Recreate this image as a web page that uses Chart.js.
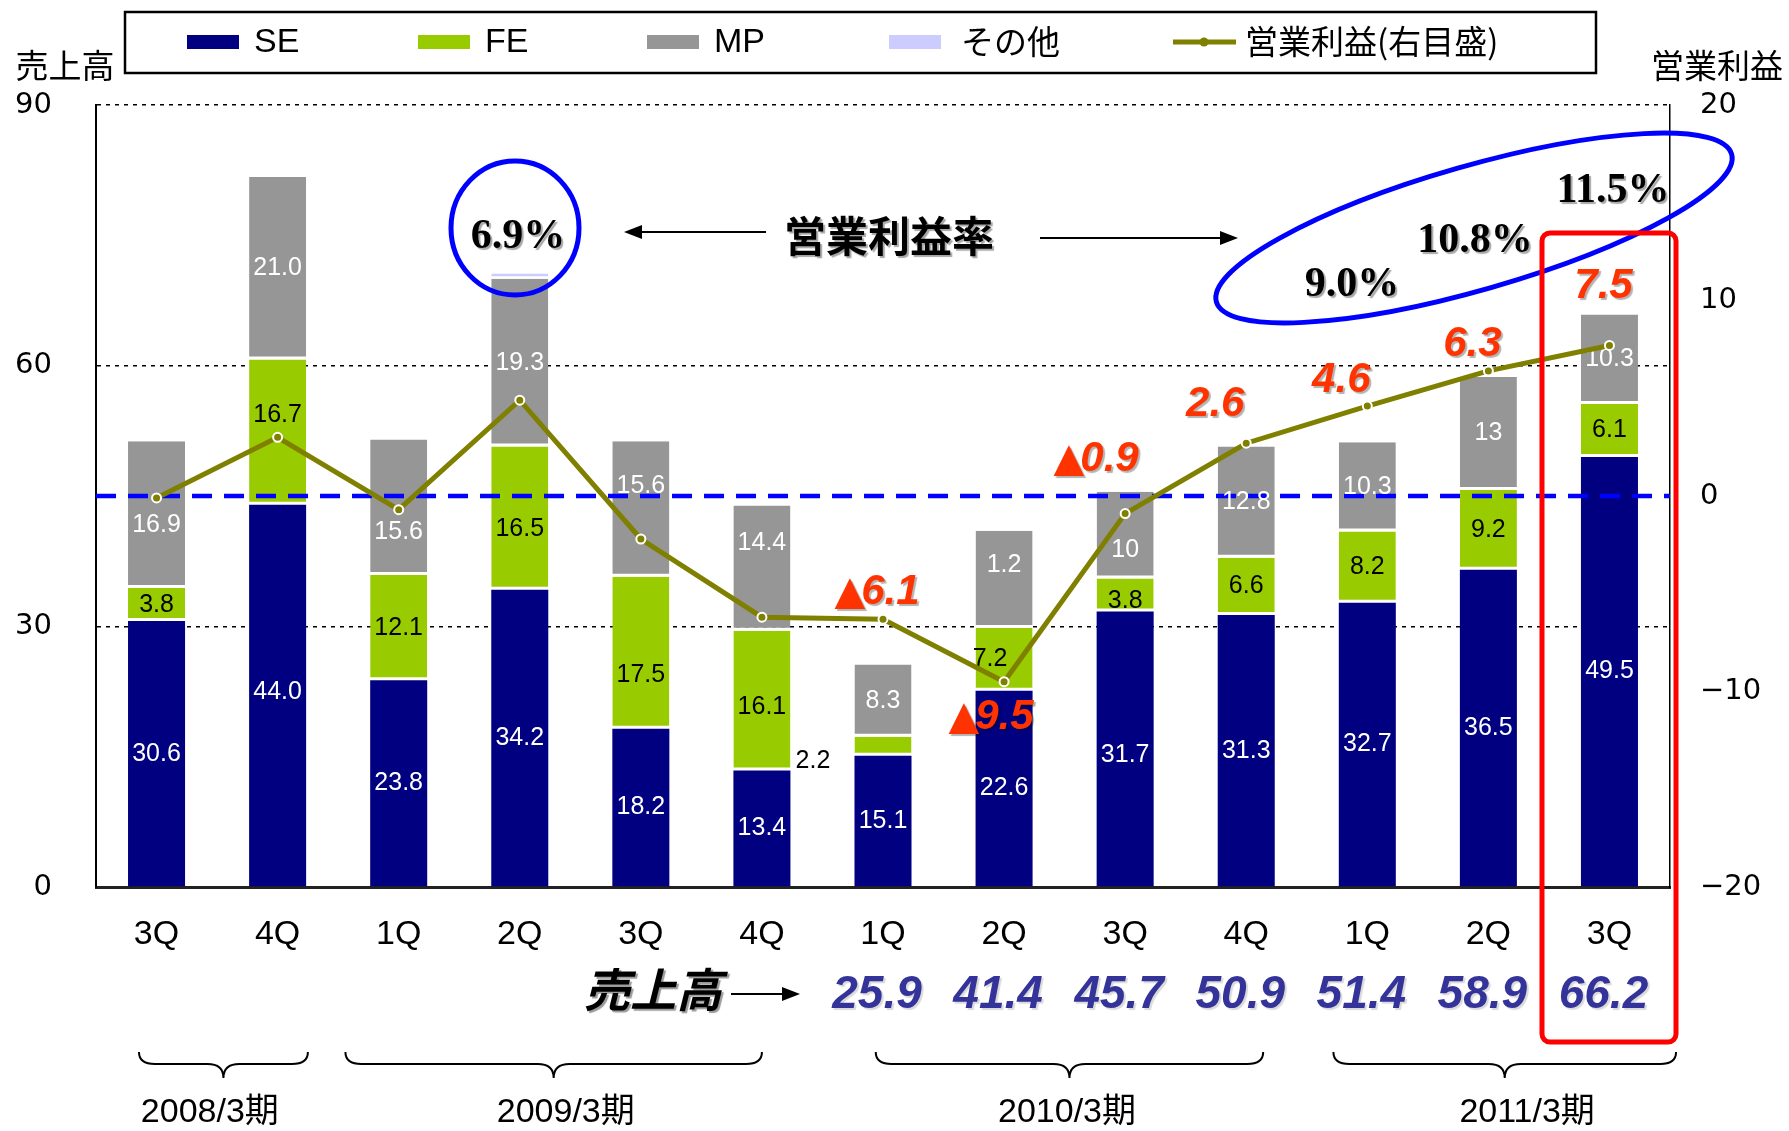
<!DOCTYPE html>
<html><head><meta charset="utf-8">
<script src="https://cdn.jsdelivr.net/npm/chart.js@4"></script>
<style>html,body{margin:0;padding:0;background:#fff;overflow:hidden}</style>
</head><body>
<canvas id="c" width="1789" height="1131"></canvas>
<script>
// ---- data ----
const categories = ['3Q','4Q','1Q','2Q','3Q','4Q','1Q','2Q','3Q','4Q','1Q','2Q','3Q'];
const seValues = [30.6,44.0,23.8,34.2,18.2,13.4,15.1,22.6,31.7,31.3,32.7,36.5,49.5];
const feValues = [3.8,16.7,12.1,16.5,17.5,16.1,2.2,7.2,3.8,6.6,8.2,9.2,6.1];
const mpValues = [16.9,21.0,15.6,19.3,15.6,14.4,8.3,11.2,10.0,12.8,10.3,13.0,10.3];
const mpLabels = ['16.9','21.0','15.6','19.3','15.6','14.4','8.3','1.2','10','12.8','10.3','13','10.3'];
const otherValues = [0,0,0,0.6,0,0,0,0,0,0,0,0,0];
const profitValues = [-0.1,3.0,-0.7,4.9,-2.2,-6.2,-6.3,-9.5,-0.9,2.7,4.6,6.4,7.7];
const profitLabels = ['','','','','','','▲6.1','▲9.5','▲0.9','2.6','4.6','6.3','7.5'];
const salesTotals = ['','','','','','','25.9','41.4','45.7','50.9','51.4','58.9','66.2'];
const marginLabels = ['6.9%','9.0%','10.8%','11.5%'];
const fiscalYears = ['2008/3期','2009/3期','2010/3期','2011/3期'];
const leftTicks = [0,30,60,90];
const rightTicks = [-20,-10,0,10,20];
const seriesNames = ['SE','FE','MP','その他','営業利益(右目盛)'];
const leftTitle = '売上高';
const rightTitle = '営業利益';
const rateTitle = '営業利益率';

// ---- styles / layout (not data) ----
const COL = {se:'#000080', fe:'#99cc00', mp:'#969696', other:'#ccccff', line:'#808000'};
const NARROW = '"Liberation Sans Narrow","Liberation Sans","Noto Sans CJK JP",sans-serif';
const SANS = '"Liberation Sans","DejaVu Sans","Noto Sans CJK JP",sans-serif';
const CJK = '"Noto Sans CJK JP",sans-serif';
const SERIF = '"Liberation Serif","DejaVu Serif",serif';
const profitOffsets = {6:[-6,-27],7:[-13,36],8:[-29,-54],9:[-31,-39],10:[-26,-26],11:[-16,-26],12:[-6,-59]};
const seLabelOffsets = {1:[0,-3],8:[0,6]};
const feLabelOffsets = {1:[0,-17],3:[0,11],4:[0,22],5:[0,6],6:[-70,15],7:[-14,0],8:[0,6]};
const mpLabelOffsets = {0:[0,10],2:[0,25],4:[0,-23],5:[0,-25],7:[0,-14],8:[0,15]};
const braceSpans = [[-0.145,1.25],[1.56,5.0],[5.94,9.14],[9.72,12.55]];
const yearLabelPos = [0.44,3.38,7.52,11.32];

function stext(ctx, t, x, y, color, sh) {
  ctx.save();
  if (sh) { ctx.shadowColor = sh; ctx.shadowOffsetX = 2; ctx.shadowOffsetY = 2; ctx.shadowBlur = 1; }
  ctx.fillStyle = color; ctx.fillText(t, x, y);
  ctx.restore();
}
function arrow(ctx, x1, y, x2) {
  const dir = Math.sign(x2 - x1);
  ctx.save(); ctx.strokeStyle = '#000'; ctx.fillStyle = '#000'; ctx.lineWidth = 2;
  ctx.beginPath(); ctx.moveTo(x1, y); ctx.lineTo(x2 - dir*14, y); ctx.stroke();
  ctx.beginPath(); ctx.moveTo(x2, y); ctx.lineTo(x2 - dir*18, y - 7); ctx.lineTo(x2 - dir*18, y + 7); ctx.closePath(); ctx.fill();
  ctx.restore();
}
function brace(ctx, x0, x1, yTop, yMid, yTip) {
  const m = (x0 + x1) / 2, r = 16;
  ctx.beginPath();
  ctx.moveTo(x0, yTop);
  ctx.quadraticCurveTo(x0, yMid, x0 + r, yMid);
  ctx.lineTo(m - r, yMid);
  ctx.quadraticCurveTo(m, yMid, m, yTip);
  ctx.quadraticCurveTo(m, yMid, m + r, yMid);
  ctx.lineTo(x1 - r, yMid);
  ctx.quadraticCurveTo(x1, yMid, x1, yTop);
  ctx.stroke();
}
// profit label: big triangle (DejaVu) + italic digits
function profitText(ctx, t, cx, cy) {
  const tri = t.startsWith('▲') ? '▲' : '';
  const num = tri ? t.slice(1) : t;
  const fTri = 'bold 40px "DejaVu Sans",sans-serif';
  const fNum = 'italic bold 42px ' + SANS;
  ctx.font = fTri; const w1 = tri ? ctx.measureText(tri).width - 4 : 0;
  ctx.font = fNum; const w2 = ctx.measureText(num).width;
  let x = cx - (w1 + w2) / 2;
  ctx.textAlign = 'left';
  if (tri) { ctx.font = fTri; stext(ctx, tri, x, cy + 1, '#ff3300', 'rgba(0,0,0,0.3)'); }
  ctx.font = fNum; stext(ctx, num, x + w1, cy, '#ff3300', 'rgba(0,0,0,0.3)');
  ctx.textAlign = 'center';
}

const overlay = {
  id: 'overlay',
  beforeDatasetDraw(chart, args) {
    if (args.index !== 0) return;
    const ctx = chart.ctx, ca = chart.chartArea;
    const y0 = chart.scales.y1.getPixelForValue(0);
    ctx.save();
    ctx.strokeStyle = '#0000ff'; ctx.lineWidth = 4.5; ctx.setLineDash([20, 12]);
    ctx.beginPath(); ctx.moveTo(ca.left, y0); ctx.lineTo(ca.right, y0); ctx.stroke();
    ctx.restore();
    ctx.save();
    ctx.font = '25px ' + SANS; ctx.textAlign = 'center'; ctx.textBaseline = 'middle';
    const specs = [[1, seValues.map(v => v.toFixed(1)), '#fff', seLabelOffsets],
                   [2, feValues.map(v => v.toFixed(1)), '#000', feLabelOffsets],
                   [3, mpLabels, '#fff', mpLabelOffsets]];
    specs.forEach(([di, texts, color, offs]) => {
      chart.getDatasetMeta(di).data.forEach((el, i) => {
        const p = el.getProps(['x','y','base'], true);
        let cx = p.x, cy = (p.y + p.base) / 2;
        if (offs[i]) { cx += offs[i][0]; cy += offs[i][1]; }
        ctx.fillStyle = color; ctx.fillText(texts[i], cx, cy);
      });
    });
    ctx.restore();
  },
  afterDraw(chart) {
    const ctx = chart.ctx, xs = chart.scales.x;
    const X = i => xs.getPixelForValue(i);
    ctx.save();
    // legend
    ctx.strokeStyle = '#000'; ctx.lineWidth = 2.5; ctx.strokeRect(125, 12, 1471, 61);
    const sw = [[187, COL.se], [418, COL.fe], [647, COL.mp], [889, COL.other]];
    sw.forEach(([x, c]) => { ctx.fillStyle = c; ctx.fillRect(x, 35, 52, 14); });
    ctx.strokeStyle = COL.line; ctx.lineWidth = 5;
    ctx.beginPath(); ctx.moveTo(1173, 42); ctx.lineTo(1236, 42); ctx.stroke();
    ctx.fillStyle = COL.line; ctx.beginPath(); ctx.arc(1204, 42, 4.5, 0, Math.PI*2); ctx.fill();
    ctx.textBaseline = 'middle'; ctx.textAlign = 'left'; ctx.fillStyle = '#000';
    ctx.font = '34px ' + SANS;
    [254, 485, 714].forEach((x, k) => ctx.fillText(seriesNames[k], x, 43));
    ctx.font = '33px ' + CJK;
    ctx.fillText(seriesNames[3], 961, 41);
    ctx.fillText(seriesNames[4], 1245, 41);
    // axis titles
    ctx.font = '33px ' + CJK; ctx.textAlign = 'center';
    ctx.fillText(leftTitle, 65, 65);
    ctx.fillText(rightTitle, 1717, 65);
    // margin annotations
    ctx.strokeStyle = '#0000ff'; ctx.lineWidth = 5;
    ctx.beginPath(); ctx.ellipse(515, 228, 64, 67, 0, 0, Math.PI*2); ctx.stroke();
    ctx.beginPath(); ctx.ellipse(1474, 228, 268, 62, -16*Math.PI/180, 0, Math.PI*2); ctx.stroke();
    ctx.font = 'bold 42px ' + SERIF;
    const mPos = [[518, 237], [1352, 285], [1475, 241], [1613, 191]];
    marginLabels.forEach((t, k) => stext(ctx, t, mPos[k][0], mPos[k][1], '#000', 'rgba(0,0,0,0.35)'));
    ctx.font = 'bold 42px ' + CJK;
    stext(ctx, rateTitle, 889, 236, '#000', 'rgba(0,0,0,0.35)');
    arrow(ctx, 766, 232, 624);
    arrow(ctx, 1040, 238, 1238);
    // red highlight box
    ctx.strokeStyle = '#ff0000'; ctx.lineWidth = 5;
    ctx.beginPath(); ctx.roundRect(1542, 233, 134, 809, 8); ctx.stroke();
    // profit labels
    const lm = chart.getDatasetMeta(0);
    profitLabels.forEach((t, i) => {
      if (!t) return;
      const el = lm.data[i], o = profitOffsets[i] || [0, -30];
      profitText(ctx, t, el.x + o[0], el.y + o[1]);
    });
    // sales totals row
    ctx.textAlign = 'center';
    ctx.font = 'italic bold 46px ' + CJK;
    stext(ctx, leftTitle, 653, 990, '#000', 'rgba(0,0,0,0.4)');
    arrow(ctx, 731, 994, 800);
    ctx.font = 'italic bold 46px ' + SANS;
    salesTotals.forEach((t, i) => { if (t) stext(ctx, t, X(i) - 6, 995, '#333399', 'rgba(0,0,0,0.15)'); });
    // braces and fiscal years
    ctx.strokeStyle = '#000'; ctx.lineWidth = 2;
    braceSpans.forEach(([a, b]) => brace(ctx, X(a), X(b), 1052, 1064, 1078));
    ctx.font = '34px ' + NARROW; ctx.fillStyle = '#000';
    fiscalYears.forEach((t, k) => ctx.fillText(t, X(yearLabelPos[k]), 1113));
    ctx.restore();
  }
};

new Chart(document.getElementById('c'), {
  data: {
    labels: categories,
    datasets: [
      {type:'line', label: seriesNames[4], data: profitValues, yAxisID:'y1', borderColor: COL.line, borderWidth: 5,
       pointRadius: 4.5, pointBackgroundColor: COL.line, pointBorderColor: '#fff', pointBorderWidth: 2, tension: 0},
      {type:'bar', label: seriesNames[0], data: seValues, backgroundColor: COL.se, stack:'s', yAxisID:'y'},
      {type:'bar', label: seriesNames[1], data: feValues, backgroundColor: COL.fe, stack:'s', yAxisID:'y',
       borderColor:'#fff', borderWidth:{top:0,left:0,right:0,bottom:3}, borderSkipped:false},
      {type:'bar', label: seriesNames[2], data: mpValues, backgroundColor: COL.mp, stack:'s', yAxisID:'y',
       borderColor:'#fff', borderWidth:{top:0,left:0,right:0,bottom:3}, borderSkipped:false},
      {type:'bar', label: seriesNames[3], data: otherValues, backgroundColor: COL.other, stack:'s', yAxisID:'y',
       borderColor:'#fff', borderWidth:{top:0,left:0,right:0,bottom:3}, borderSkipped:false}
    ]
  },
  options: {
    responsive: false, animation: false, devicePixelRatio: 1,
    layout: {padding: {top: 105, left: 0, right: 0, bottom: 0}},
    datasets: {bar: {barPercentage: 0.471, categoryPercentage: 1}},
    plugins: {legend: {display: false}, tooltip: {enabled: false}},
    scales: {
      x: {stacked: true, offset: true, grid: {display: false, drawTicks: false},
          border: {display: true, color: '#222', width: 3},
          ticks: {font: {family: NARROW, size: 34}, color: '#000', padding: 27},
          afterFit: s => { s.height = 244; }},
      y: {stacked: true, position: 'left', min: 0, max: 90,
          afterBuildTicks: s => { s.ticks = leftTicks.map(v => ({value: v})); },
          ticks: {font: {family: '"DejaVu Sans"', size: 29}, color: '#000', padding: 44},
          grid: {color: c => c.tick && c.tick.value === 0 ? 'rgba(0,0,0,0)' : '#000', lineWidth: 1.5, drawTicks: false},
          border: {display: true, color: '#000', width: 2, dash: [4, 5]},
          afterFit: s => { s.width = 96; }},
      y1: {position: 'right', min: -20, max: 20,
          afterBuildTicks: s => { s.ticks = rightTicks.map(v => ({value: v})); },
          ticks: {font: {family: '"DejaVu Sans"', size: 29}, color: '#000', padding: 30,
                  callback: v => String(v).replace('-', '−')},
          grid: {display: false, drawTicks: false},
          border: {display: true, color: '#000', width: 1.5},
          afterFit: s => { s.width = 119; }}
    }
  },
  plugins: [overlay]
});
</script>
</body></html>
